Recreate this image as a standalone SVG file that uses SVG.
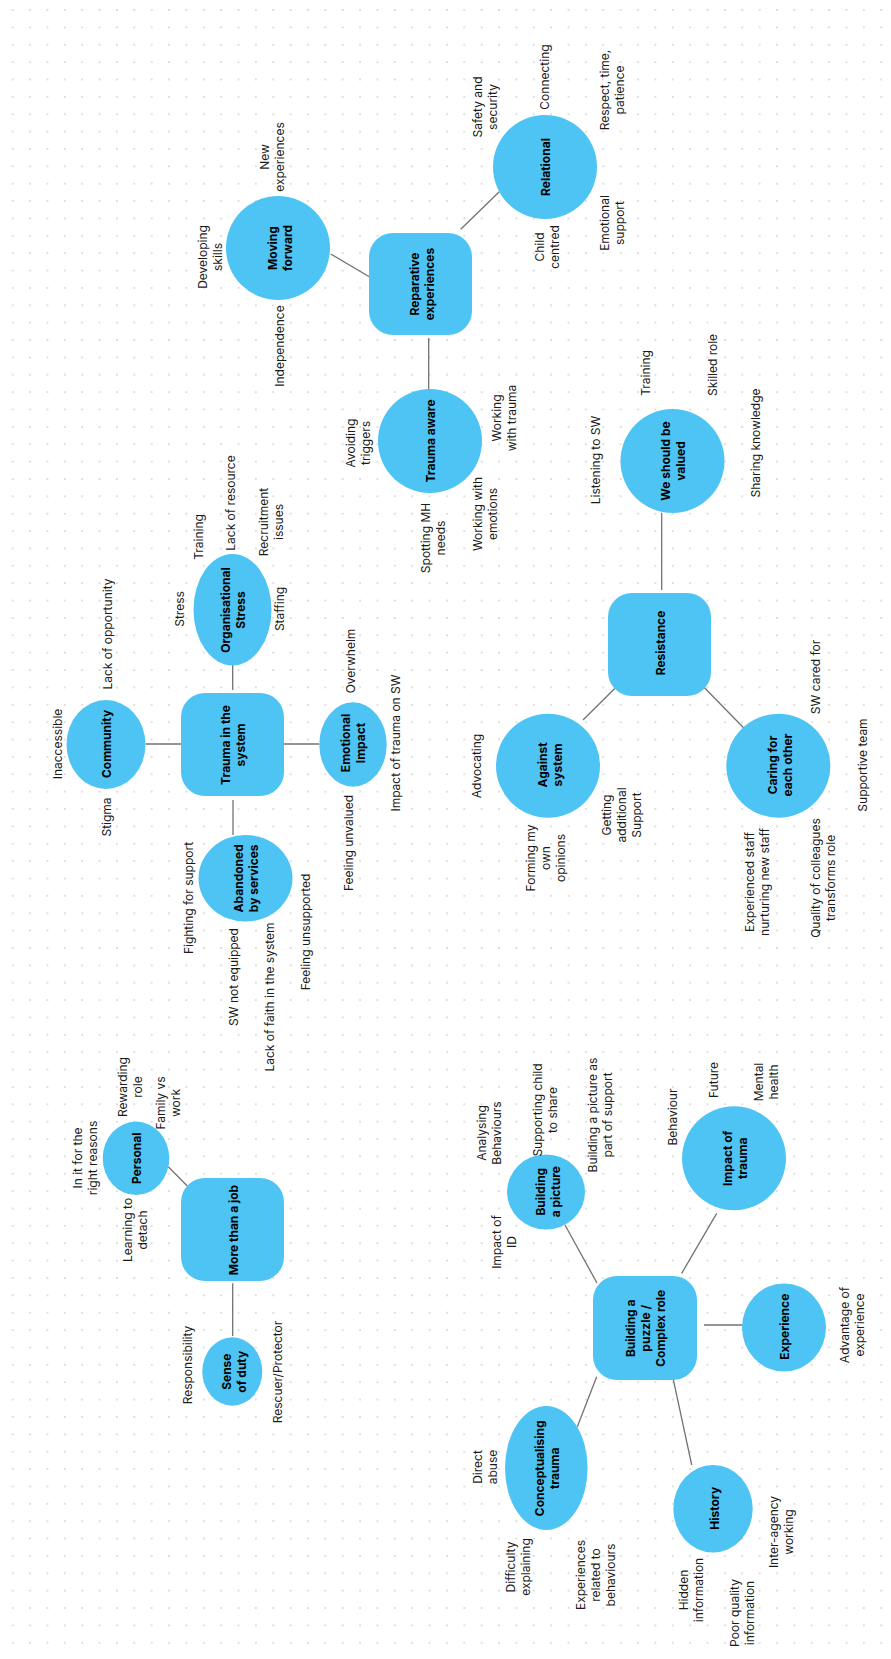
<svg xmlns="http://www.w3.org/2000/svg" width="891" height="1659" viewBox="0 0 891 1659">
<style>
.n{fill:#4DC4F4}
.t{font-family:Inter,'Liberation Sans',sans-serif;font-size:12px;fill:#1c1c1c;text-anchor:middle;dominant-baseline:central}
.b{font-weight:700;fill:#000}
.c{stroke:#727272;stroke-width:1.3;fill:none}
</style>
<defs>
<pattern id="dots" patternUnits="userSpaceOnUse" x="4" y="1.3" width="17.37" height="17.37">
<circle cx="8.685" cy="8.685" r="0.9" fill="#cfcfcf"/>
</pattern>
</defs>
<rect width="891" height="1659" fill="#fff"/>
<rect width="891" height="1659" fill="url(#dots)"/>

<g id="connectors" class="c">
<line x1="330.7" y1="254" x2="369.3" y2="276.7"/>
<line x1="460.7" y1="229.3" x2="499.3" y2="191.7"/>
<line x1="428.7" y1="338" x2="428.7" y2="391.7"/>
<line x1="145.7" y1="744" x2="183" y2="744"/>
<line x1="232.7" y1="665" x2="232.7" y2="690"/>
<line x1="284" y1="744" x2="319" y2="744"/>
<line x1="233" y1="800" x2="233" y2="835"/>
<line x1="661.7" y1="512.7" x2="661.7" y2="590"/>
<line x1="615" y1="688.3" x2="583" y2="720"/>
<line x1="704" y1="687.3" x2="744" y2="728.3"/>
<line x1="168.3" y1="1166.7" x2="187.3" y2="1186"/>
<line x1="232.7" y1="1283.3" x2="232.7" y2="1336"/>
<line x1="565" y1="1225" x2="597" y2="1283"/>
<line x1="716.7" y1="1213.3" x2="681.7" y2="1273.3"/>
<line x1="704" y1="1325" x2="743" y2="1325"/>
<line x1="672.7" y1="1376.7" x2="691.7" y2="1465"/>
<line x1="596.7" y1="1376.7" x2="577.3" y2="1426.7"/>
</g>

<g id="moving-forward"><circle class="n" cx="278" cy="248" r="52"/>
<text class="t b" transform="translate(279 248) rotate(-90)"><tspan x="0" dy="-7.5">Moving</tspan><tspan x="0" dy="15">forward</tspan></text></g>
<g id="reparative"><rect class="n" x="369" y="233" width="103" height="102" rx="24"/>
<text class="t b" transform="translate(421 284) rotate(-90)"><tspan x="0" dy="-7.5">Reparative</tspan><tspan x="0" dy="15">experiences</tspan></text></g>
<g id="relational"><circle class="n" cx="545" cy="167" r="52"/>
<text class="t b" transform="translate(545 167) rotate(-90)">Relational</text></g>
<g id="trauma-aware"><circle class="n" cx="430" cy="441" r="52"/>
<text class="t b" transform="translate(430 441) rotate(-90)">Trauma aware</text></g>
<g id="community"><ellipse class="n" cx="106" cy="744.5" rx="39.5" ry="44.5"/>
<text class="t b" transform="translate(106 744) rotate(-90)">Community</text></g>
<g id="org-stress"><ellipse class="n" cx="232.5" cy="609.7" rx="39" ry="55.7"/>
<text class="t b" transform="translate(232.5 610) rotate(-90)"><tspan x="0" dy="-7.5">Organisational</tspan><tspan x="0" dy="15">Stress</tspan></text></g>
<g id="trauma-system"><rect class="n" x="181" y="693" width="103" height="103" rx="24"/>
<text class="t b" transform="translate(232.5 745) rotate(-90)"><tspan x="0" dy="-7.5">Trauma in the</tspan><tspan x="0" dy="15">system</tspan></text></g>
<g id="emotional-impact"><ellipse class="n" cx="353" cy="744.5" rx="33.7" ry="42.2"/>
<text class="t b" transform="translate(352.5 743) rotate(-90)"><tspan x="0" dy="-7.5">Emotional</tspan><tspan x="0" dy="15">Impact</tspan></text></g>
<g id="abandoned"><ellipse class="n" cx="245.5" cy="878.3" rx="47" ry="43.3"/>
<text class="t b" transform="translate(245.5 878.3) rotate(-90)"><tspan x="0" dy="-7.5">Abandoned</tspan><tspan x="0" dy="15">by services</tspan></text></g>
<g id="we-valued"><circle class="n" cx="672.5" cy="461" r="52"/>
<text class="t b" transform="translate(672.5 461) rotate(-90)"><tspan x="0" dy="-7.5">We should be</tspan><tspan x="0" dy="15">valued</tspan></text></g>
<g id="resistance"><rect class="n" x="608" y="593" width="103" height="103" rx="24"/>
<text class="t b" transform="translate(660.7 643) rotate(-90)">Resistance</text></g>
<g id="against-system"><circle class="n" cx="548" cy="765.7" r="52"/>
<text class="t b" transform="translate(549 765) rotate(-90)"><tspan x="0" dy="-7.5">Against</tspan><tspan x="0" dy="15">system</tspan></text></g>
<g id="caring"><circle class="n" cx="778.3" cy="765.7" r="52"/>
<text class="t b" transform="translate(779 765) rotate(-90)"><tspan x="0" dy="-7.5">Caring for</tspan><tspan x="0" dy="15">each other</tspan></text></g>
<g id="personal"><ellipse class="n" cx="136" cy="1158.3" rx="33.3" ry="36.7"/>
<text class="t b" transform="translate(136.5 1158.3) rotate(-90)">Personal</text></g>
<g id="more-than-job"><rect class="n" x="181" y="1178" width="103" height="103" rx="24"/>
<text class="t b" transform="translate(233.3 1230) rotate(-90)">More than a job</text></g>
<g id="sense-of-duty"><ellipse class="n" cx="232.3" cy="1371.5" rx="30" ry="34.2"/>
<text class="t b" transform="translate(233.3 1371.7) rotate(-90)"><tspan x="0" dy="-7.5">Sense</tspan><tspan x="0" dy="15">of duty</tspan></text></g>
<g id="building-picture"><ellipse class="n" cx="546" cy="1192" rx="39" ry="37.5"/>
<text class="t b" transform="translate(547 1191.7) rotate(-90)"><tspan x="0" dy="-7.5">Building</tspan><tspan x="0" dy="15">a picture</tspan></text></g>
<g id="impact-of-trauma"><circle class="n" cx="734" cy="1158.3" r="52"/>
<text class="t b" transform="translate(734 1158.3) rotate(-90)"><tspan x="0" dy="-7.5">Impact of</tspan><tspan x="0" dy="15">trauma</tspan></text></g>
<g id="puzzle"><rect class="n" x="593" y="1276" width="104" height="104" rx="24"/>
<text class="t b" transform="translate(645 1328.3) rotate(-90)"><tspan x="0" dy="-15">Building a</tspan><tspan x="0" dy="15">puzzle /</tspan><tspan x="0" dy="15">Complex role</tspan></text></g>
<g id="experience"><ellipse class="n" cx="784" cy="1327.5" rx="42" ry="44"/>
<text class="t b" transform="translate(784 1326.7) rotate(-90)">Experience</text></g>
<g id="history"><ellipse class="n" cx="713" cy="1508.8" rx="39.7" ry="43.8"/>
<text class="t b" transform="translate(714 1508.3) rotate(-90)">History</text></g>
<g id="conceptualising"><ellipse class="n" cx="546.3" cy="1468" rx="41.3" ry="62"/>
<text class="t b" transform="translate(546 1468.3) rotate(-90)"><tspan x="0" dy="-7.5">Conceptualising</tspan><tspan x="0" dy="15">trauma</tspan></text></g>

<g id="labels">
<text class="t" transform="translate(209 257) rotate(-90)"><tspan x="0" dy="-7.5">Developing</tspan><tspan x="0" dy="15">skills</tspan></text>
<text class="t" transform="translate(271 157) rotate(-90)"><tspan x="0" dy="-7.5">New</tspan><tspan x="0" dy="15">experiences</tspan></text>
<text class="t" transform="translate(279 346) rotate(-90)">Independence</text>
<text class="t" transform="translate(484 107) rotate(-90)"><tspan x="0" dy="-7.5">Safety and</tspan><tspan x="0" dy="15">security</tspan></text>
<text class="t" transform="translate(544 77) rotate(-90)">Connecting</text>
<text class="t" transform="translate(546 247) rotate(-90)"><tspan x="0" dy="-7.5">Child</tspan><tspan x="0" dy="15">centred</tspan></text>
<text class="t" transform="translate(611 90) rotate(-90)"><tspan x="0" dy="-7.5">Respect, time,</tspan><tspan x="0" dy="15">patience</tspan></text>
<text class="t" transform="translate(611 223) rotate(-90)"><tspan x="0" dy="-7.5">Emotional</tspan><tspan x="0" dy="15">support</tspan></text>
<text class="t" transform="translate(645 373) rotate(-90)">Training</text>
<text class="t" transform="translate(712 365) rotate(-90)">Skilled role</text>
<text class="t" transform="translate(755 443) rotate(-90)">Sharing knowledge</text>
<text class="t" transform="translate(595 460) rotate(-90)">Listening to SW</text>
<text class="t" transform="translate(357 443) rotate(-90)"><tspan x="0" dy="-7.5">Avoiding</tspan><tspan x="0" dy="15">triggers</tspan></text>
<text class="t" transform="translate(503 418) rotate(-90)"><tspan x="0" dy="-7.5">Working</tspan><tspan x="0" dy="15">with trauma</tspan></text>
<text class="t" transform="translate(432 538) rotate(-90)"><tspan x="0" dy="-7.5">Spotting MH</tspan><tspan x="0" dy="15">needs</tspan></text>
<text class="t" transform="translate(484 514) rotate(-90)"><tspan x="0" dy="-7.5">Working with</tspan><tspan x="0" dy="15">emotions</tspan></text>
<text class="t" transform="translate(57 744) rotate(-90)">Inaccessible</text>
<text class="t" transform="translate(107 634) rotate(-90)">Lack of opportunity</text>
<text class="t" transform="translate(106 817) rotate(-90)">Stigma</text>
<text class="t" transform="translate(179 609) rotate(-90)">Stress</text>
<text class="t" transform="translate(198 537) rotate(-90)">Training</text>
<text class="t" transform="translate(230 503) rotate(-90)">Lack of resource</text>
<text class="t" transform="translate(270 522) rotate(-90)"><tspan x="0" dy="-7.5">Recruitment</tspan><tspan x="0" dy="15">issues</tspan></text>
<text class="t" transform="translate(279 609) rotate(-90)">Staffing</text>
<text class="t" transform="translate(350 661) rotate(-90)">Overwhelm</text>
<text class="t" transform="translate(395 743) rotate(-90)">Impact of trauma on SW</text>
<text class="t" transform="translate(348 843) rotate(-90)">Feeling unvalued</text>
<text class="t" transform="translate(476 766) rotate(-90)">Advocating</text>
<text class="t" transform="translate(621 815) rotate(-90)"><tspan x="0" dy="-15">Getting</tspan><tspan x="0" dy="15">additional</tspan><tspan x="0" dy="15">Support</tspan></text>
<text class="t" transform="translate(545 858) rotate(-90)"><tspan x="0" dy="-15">Forming my</tspan><tspan x="0" dy="15">own</tspan><tspan x="0" dy="15">opinions</tspan></text>
<text class="t" transform="translate(815 677) rotate(-90)">SW cared for</text>
<text class="t" transform="translate(862 765) rotate(-90)">Supportive team</text>
<text class="t" transform="translate(756 882) rotate(-90)"><tspan x="0" dy="-7.5">Experienced staff</tspan><tspan x="0" dy="15">nurturing new staff</tspan></text>
<text class="t" transform="translate(822 878) rotate(-90)"><tspan x="0" dy="-7.5">Quality of colleagues</tspan><tspan x="0" dy="15">transforms role</tspan></text>
<text class="t" transform="translate(188 898) rotate(-90)">Fighting for support</text>
<text class="t" transform="translate(233 977) rotate(-90)">SW not equipped</text>
<text class="t" transform="translate(269 997) rotate(-90)">Lack of faith in the system</text>
<text class="t" transform="translate(305 932) rotate(-90)">Feeling unsupported</text>
<text class="t" transform="translate(84 1158) rotate(-90)"><tspan x="0" dy="-7.5">In it for the</tspan><tspan x="0" dy="15">right reasons</tspan></text>
<text class="t" transform="translate(129 1087) rotate(-90)"><tspan x="0" dy="-7.5">Rewarding</tspan><tspan x="0" dy="15">role</tspan></text>
<text class="t" transform="translate(167.5 1103) rotate(-90)"><tspan x="0" dy="-7.5">Family vs</tspan><tspan x="0" dy="15">work</tspan></text>
<text class="t" transform="translate(134 1230) rotate(-90)"><tspan x="0" dy="-7.5">Learning to</tspan><tspan x="0" dy="15">detach</tspan></text>
<text class="t" transform="translate(187 1365) rotate(-90)">Responsibility</text>
<text class="t" transform="translate(277 1372) rotate(-90)">Rescuer/Protector</text>
<text class="t" transform="translate(488 1133) rotate(-90)"><tspan x="0" dy="-7.5">Analysing</tspan><tspan x="0" dy="15">Behaviours</tspan></text>
<text class="t" transform="translate(544 1110) rotate(-90)"><tspan x="0" dy="-7.5">Supporting child</tspan><tspan x="0" dy="15">to share</tspan></text>
<text class="t" transform="translate(599 1115) rotate(-90)"><tspan x="0" dy="-7.5">Building a picture as</tspan><tspan x="0" dy="15">part of support</tspan></text>
<text class="t" transform="translate(503.5 1242) rotate(-90)"><tspan x="0" dy="-7.5">Impact of</tspan><tspan x="0" dy="15">ID</tspan></text>
<text class="t" transform="translate(672 1117) rotate(-90)">Behaviour</text>
<text class="t" transform="translate(713 1080) rotate(-90)">Future</text>
<text class="t" transform="translate(765 1082) rotate(-90)"><tspan x="0" dy="-7.5">Mental</tspan><tspan x="0" dy="15">health</tspan></text>
<text class="t" transform="translate(851 1325) rotate(-90)"><tspan x="0" dy="-7.5">Advantage of</tspan><tspan x="0" dy="15">experience</tspan></text>
<text class="t" transform="translate(780 1532) rotate(-90)"><tspan x="0" dy="-7.5">Inter-agency</tspan><tspan x="0" dy="15">working</tspan></text>
<text class="t" transform="translate(690 1590) rotate(-90)"><tspan x="0" dy="-7.5">Hidden</tspan><tspan x="0" dy="15">information</tspan></text>
<text class="t" transform="translate(741 1613) rotate(-90)"><tspan x="0" dy="-7.5">Poor quality</tspan><tspan x="0" dy="15">information</tspan></text>
<text class="t" transform="translate(484 1467) rotate(-90)"><tspan x="0" dy="-7.5">Direct</tspan><tspan x="0" dy="15">abuse</tspan></text>
<text class="t" transform="translate(517.5 1567) rotate(-90)"><tspan x="0" dy="-7.5">Difficulty</tspan><tspan x="0" dy="15">explaining</tspan></text>
<text class="t" transform="translate(595 1575) rotate(-90)"><tspan x="0" dy="-15">Experiences</tspan><tspan x="0" dy="15">related to</tspan><tspan x="0" dy="15">behaviours</tspan></text>
</g>
</svg>
